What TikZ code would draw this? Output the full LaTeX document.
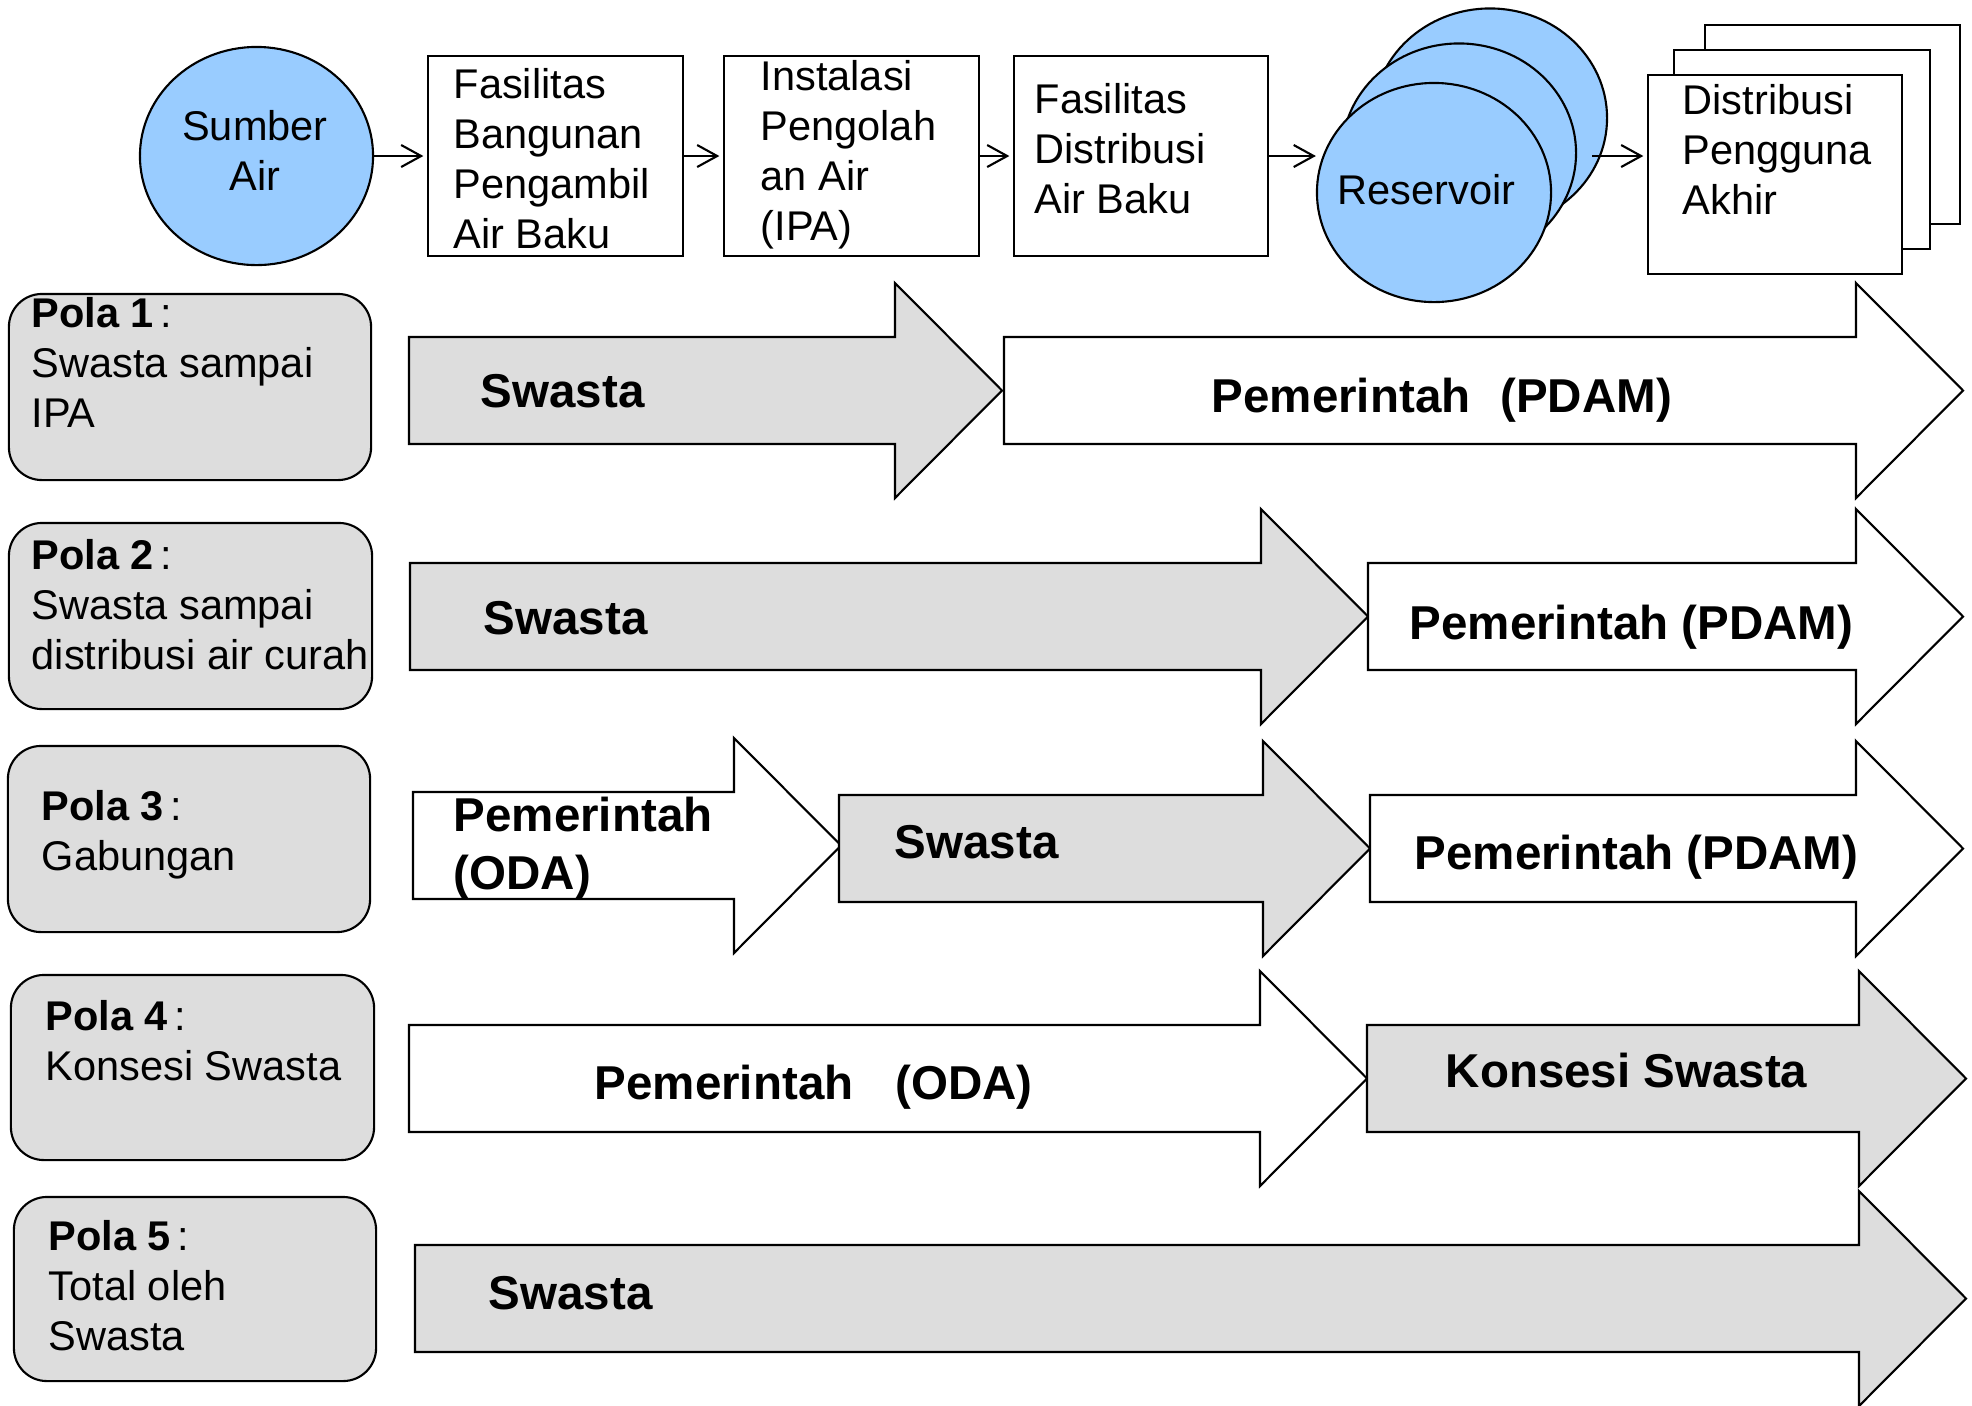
\documentclass[tikz,border=0pt]{standalone}
\usepackage{fontspec}
\setmainfont{Liberation Sans}
\usetikzlibrary{arrows.meta,shapes.geometric,calc}

\definecolor{waterblue}{RGB}{153,204,255}
\definecolor{panelgray}{RGB}{221,221,221}

\newcommand\regfont{\fontsize{11.81pt}{14.23pt}\selectfont}
\newcommand\heavyfont{\fontsize{13.51pt}{16.5pt}\selectfont\bfseries}

% block arrow: start x, tip x, centre y, fill colour
\newcommand\blockarrow[4]{%
  \draw[outline, fill=#4]
    (#1,{#3-53.5}) -- ({#2-107},{#3-53.5}) -- ({#2-107},{#3-107.5})
    -- (#2,#3) -- ({#2-107},{#3+107.5}) -- ({#2-107},{#3+53.5})
    -- (#1,{#3+53.5}) -- cycle;}

\tikzset{
  x=0.01cm, y=-0.01cm,
  outline/.style={draw=black, line width=0.6pt, line join=miter},
  stagebox/.style={outline, fill=white, rectangle, inner sep=0pt},
  tank/.style={outline, fill=waterblue, ellipse, inner sep=0pt},
  polabox/.style={outline, fill=panelgray, rectangle, rounded corners=0.33cm, inner sep=0pt},
  flow/.style={line width=0.6pt, -{Straight Barb[length=2mm, width=2.2mm]}, shorten >=1pt},
  txt/.style={inner sep=0pt, anchor=base west},
  heavy/.style={txt, font=\heavyfont},
}

\begin{document}
\begin{tikzpicture}
\useasboundingbox (0,0) rectangle (1972,1405);

% ---- process chain ----
\node[tank, minimum width=2.33cm, minimum height=2.18cm] (sumber) at (256.5,156) {};
\node[stagebox, minimum width=2.55cm, minimum height=2cm] (fas1) at (555.5,156) {};
\node[stagebox, minimum width=2.55cm, minimum height=2cm] (ipa) at (851.5,156) {};
\node[stagebox, minimum width=2.54cm, minimum height=2cm] (fas3) at (1141,156) {};

\node[tank, minimum width=2.34cm, minimum height=2.19cm] (res3) at (1490,118) {};
\node[tank, minimum width=2.34cm, minimum height=2.19cm] (res2) at (1459,153) {};
\node[tank, minimum width=2.34cm, minimum height=2.19cm] (res1) at (1434,192.5) {};

\node[stagebox, minimum width=2.55cm, minimum height=1.99cm] (dist3) at (1832.5,124.5) {};
\node[stagebox, minimum width=2.56cm, minimum height=1.99cm] (dist2) at (1802,149.5) {};
\node[stagebox, minimum width=2.54cm, minimum height=1.99cm] (dist1) at (1775,174.5) {};

\node[txt, anchor=base] (t-sumber) at (255,140) {\parbox[t]{3cm}{\centering\regfont Sumber\\Air}};
\node[txt] (t-fas1) at (453,98) {\parbox[t]{3cm}{\regfont Fasilitas\\Bangunan\\Pengambil\\Air Baku}};
\node[txt] (t-ipa) at (760,90) {\parbox[t]{3cm}{\regfont Instalasi\\Pengolah\\an Air\\(IPA)}};
\node[txt] (t-fas3) at (1034,113) {\parbox[t]{3cm}{\regfont Fasilitas\\Distribusi\\Air Baku}};
\node[txt, font=\regfont] (t-res) at (1337,204) {Reservoir};
\node[txt] (t-dist) at (1682,114) {\parbox[t]{3cm}{\regfont Distribusi\\Pengguna\\Akhir}};

\coordinate (resout) at (1592,156);
\draw[flow] (sumber.east) -- (fas1.west |- sumber.east);
\draw[flow] (fas1.east) -- (ipa.west);
\draw[flow] (ipa.east) -- (fas3.west);
\draw[flow, shorten >=0pt] (fas3.east) -- (res1.west |- fas3.east);
\draw[flow] (resout) -- (dist1.west |- resout);

% ---- Pola labels ----
\node[polabox, minimum width=3.62cm, minimum height=1.86cm] (p1) at (190,387) {};
\node[polabox, minimum width=3.63cm, minimum height=1.86cm] (p2) at (190.5,616) {};
\node[polabox, minimum width=3.62cm, minimum height=1.86cm] (p3) at (189,839) {};
\node[polabox, minimum width=3.63cm, minimum height=1.85cm] (p4) at (192.5,1067.5) {};
\node[polabox, minimum width=3.62cm, minimum height=1.84cm] (p5) at (195,1289) {};

\node[txt] (t-p1) at (31,327) {\parbox[t]{4cm}{\regfont\textbf{Pola 1}\,:\\Swasta sampai\\IPA}};
\node[txt] (t-p2) at (31,569) {\parbox[t]{4cm}{\regfont\textbf{Pola 2}\,:\\Swasta sampai\\distribusi air curah}};
\node[txt] (t-p3) at (41,820) {\parbox[t]{4cm}{\regfont\textbf{Pola 3}\,:\\Gabungan}};
\node[txt] (t-p4) at (45,1030) {\parbox[t]{4cm}{\regfont\textbf{Pola 4}\,:\\Konsesi Swasta}};
\node[txt] (t-p5) at (48,1250) {\parbox[t]{4cm}{\regfont\textbf{Pola 5}\,:\\Total oleh\\Swasta}};

% ---- responsibility arrows ----
% Pola 1
\blockarrow{409}{1002}{390.5}{panelgray}
\blockarrow{1004}{1963}{390.5}{white}
\node[heavy] (a1s) at (480,407) {Swasta};
\node[heavy] (a1p) at (1211,412) {Pemerintah\hspace{0.3cm}(PDAM)};
% Pola 2
\blockarrow{410}{1368}{616.5}{panelgray}
\blockarrow{1368}{1963}{616.5}{white}
\node[heavy] (a2s) at (483,634) {Swasta};
\node[heavy] (a2p) at (1409,639) {Pemerintah (PDAM)};
% Pola 3
\blockarrow{413}{841}{845.5}{white}
\blockarrow{839}{1370}{848.5}{panelgray}
\blockarrow{1370}{1963}{848.5}{white}
\node[txt] (a3o) at (453,831) {\parbox[t]{4cm}{\heavyfont Pemerintah\\(ODA)}};
\node[heavy] (a3s) at (894,858) {Swasta};
\node[heavy] (a3p) at (1414,869) {Pemerintah (PDAM)};
% Pola 4
\blockarrow{409}{1367}{1078.5}{white}
\blockarrow{1367}{1966}{1078.5}{panelgray}
\node[heavy] (a4o) at (594,1099) {Pemerintah\hspace{0.42cm}(ODA)};
\node[heavy] (a4k) at (1445,1087) {Konsesi Swasta};
% Pola 5
\blockarrow{415}{1966}{1298.5}{panelgray}
\node[heavy] (a5s) at (488,1309) {Swasta};
\end{tikzpicture}
\end{document}
